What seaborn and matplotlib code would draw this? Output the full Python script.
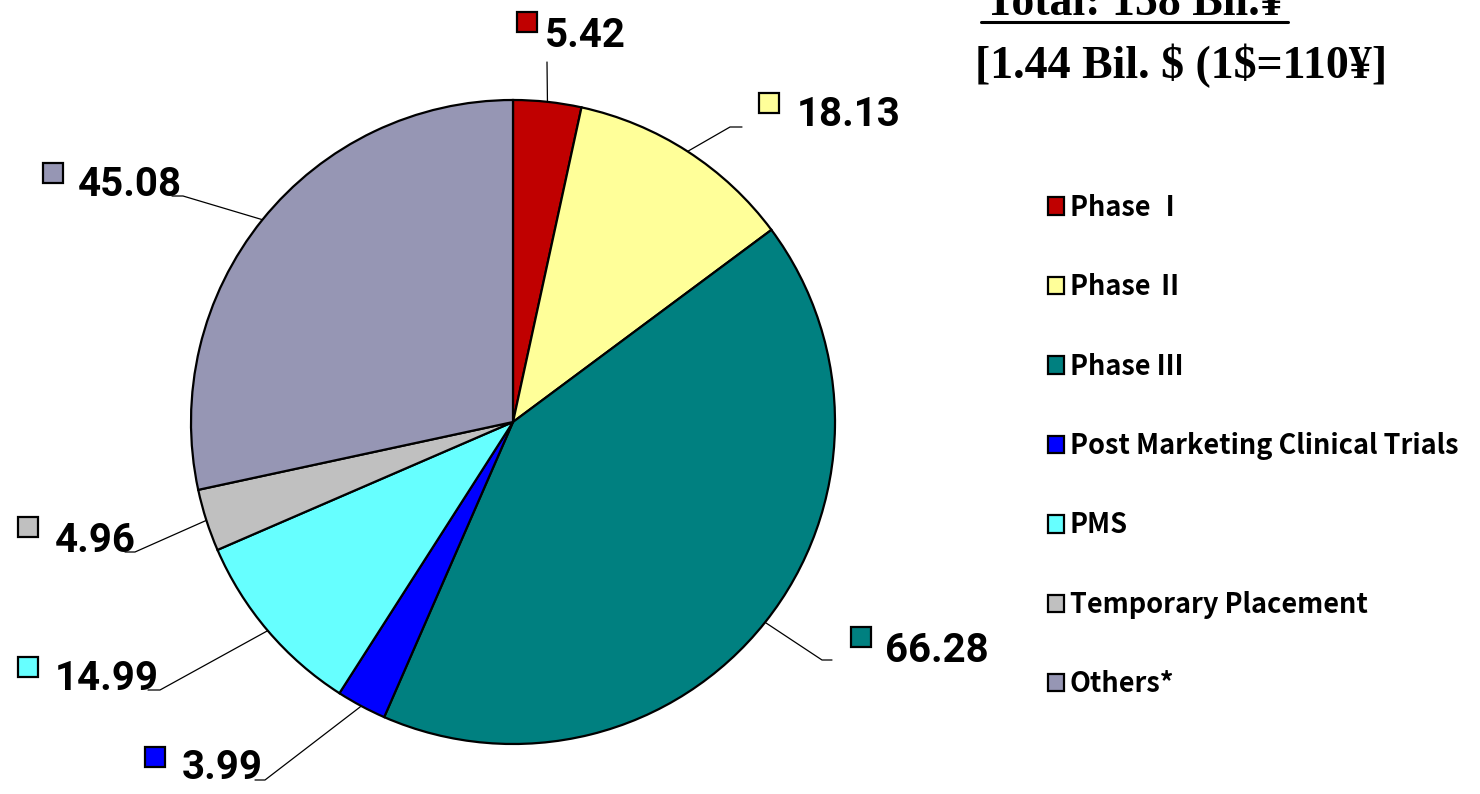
import numpy as np
import matplotlib
matplotlib.use("Agg")
import matplotlib.pyplot as plt
import seaborn as sns

# data
categories = ["Phase Ⅰ", "Phase Ⅱ", "Phase Ⅲ", "Post Marketing Clinical Trials",
              "PMS", "Temporary Placement", "Others*"]
values = [5.42, 18.13, 66.28, 3.99, 14.99, 4.96, 45.08]
value_labels = ["5.42", "18.13", "66.28", "3.99", "14.99", "4.96", "45.08"]
colors = ["#C00000", "#FFFF99", "#008080", "#0000FF", "#66FFFF", "#C0C0C0", "#9696B4"]

W, H = 1480, 794

# label layout in pixels (y measured from the top)
text_xy = [(545, 47), (797, 126), (885, 662), (182, 779), (55, 690), (55, 552), (78, 196)]
marker_xy = [(527, 22), (769, 103), (861, 637), (155, 757), (28, 667), (28, 527), (53, 173)]
elbow_xy = [(547, 62), (730, 127), (822, 660), (265, 780), (160, 690), (135, 552), (183, 196)]
tail_xy = [None, (742, 127), (832, 660), (255, 780), (148, 690), (125, 552), (172, 196)]


def px(p):
    return p[0], H - p[1]


sns.set_style("white")
plt.rcParams["font.family"] = ["Noto Sans CJK JP", "DejaVu Sans"]
plt.rcParams["text.color"] = "black"

fig = plt.figure(figsize=(W / 100, H / 100), dpi=100)
ax = fig.add_axes([0, 0, 1, 1])

center = px((513, 422))
radius = 322
wedges, _ = ax.pie(values, colors=sns.color_palette(colors), startangle=90,
                   counterclock=False, center=center, radius=radius,
                   wedgeprops=dict(edgecolor="black", linewidth=1.6))
ax.set_xlim(0, W)
ax.set_ylim(0, H)
ax.set_aspect("equal")
ax.axis("off")

# value labels with leader lines
for i, w in enumerate(wedges):
    mid = np.deg2rad((w.theta1 + w.theta2) / 2)
    start = (center[0] + radius * np.cos(mid), center[1] + radius * np.sin(mid))
    pts = [start, px(elbow_xy[i])]
    if tail_xy[i] is not None:
        pts.append(px(tail_xy[i]))
    xs, ys = zip(*pts)
    ax.plot(xs, ys, color="black", lw=0.9)
    mx, my = px(marker_xy[i])
    ax.plot(mx, my, marker="s", ms=14, mfc=colors[i], mec="black", mew=1.6)
    tx, ty = px(text_xy[i])
    ax.text(tx, ty, value_labels[i], ha="left", va="baseline", fontsize=29,
            fontweight="bold", color="black", family=["Roboto", "DejaVu Sans"])

# legend
leg = fig.legend(wedges, categories, loc="center left",
                 bbox_to_anchor=(1048 / W, 1 - 446 / H), frameon=False,
                 fontsize=19.5, labelspacing=1.90, handlelength=0.6, handleheight=0.6,
                 handletextpad=0.2, borderpad=0, borderaxespad=0)
for t in leg.get_texts():
    t.set_fontweight("bold")
    t.set_color("black")

# total annotation
fig.text(985 / W, 1 - 15 / H, "Total: 158 Bil.¥", ha="left", va="baseline",
         fontsize=33, fontweight="bold", family=["Liberation Serif", "DejaVu Serif"])
fig.add_artist(plt.Line2D([981 / W, 1288 / W], [1 - 22 / H, 1 - 22 / H],
                          color="black", lw=2.2))
fig.text(975 / W, 1 - 78 / H, r"[1.44 Bil. \$ (1\$=110¥]", ha="left", va="baseline",
         fontsize=33, fontweight="bold", family=["Liberation Serif", "DejaVu Serif"])

fig.savefig("out.png", dpi=100)
